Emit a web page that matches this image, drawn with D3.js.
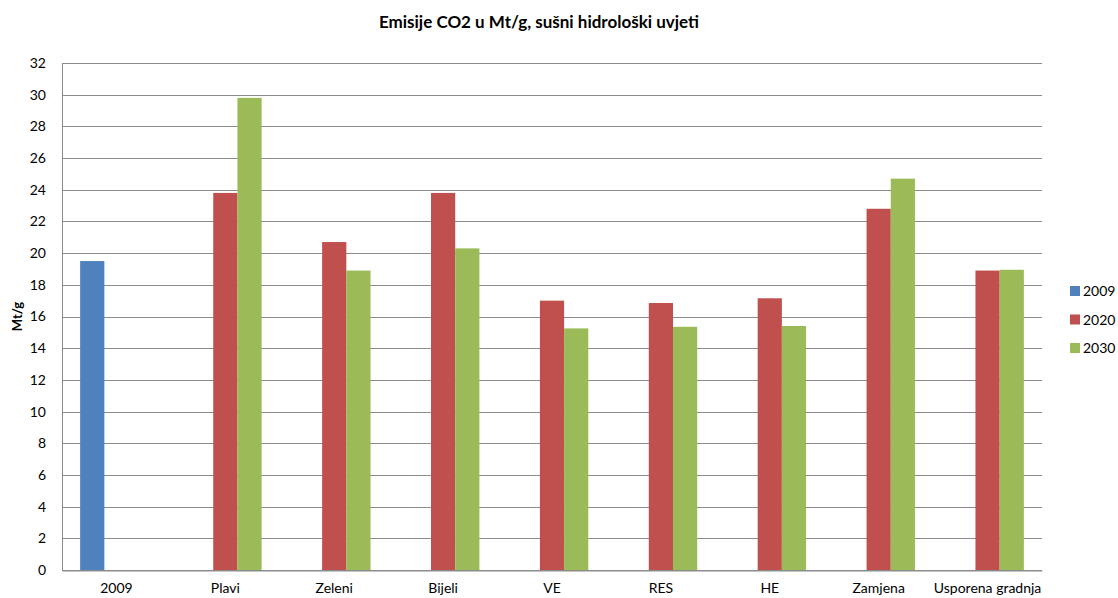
<!DOCTYPE html>
<html>
<head>
<meta charset="utf-8">
<script src="https://cdn.jsdelivr.net/npm/d3@7"></script>
<style>
  body { margin: 0; background: #fff; }
  text { font-family: Lato, "Open Sans", sans-serif; fill: #000; }
</style>
</head>
<body>
<script>
var categories = ["2009", "Plavi", "Zeleni", "Bijeli", "VE", "RES", "HE", "Zamjena", "Usporena gradnja"];
var seriesNames = ["2009", "2020", "2030"];
var values2009 = [19.5, 0, 0, 0, 0, 0, 0, 0, 0];
var values2020 = [0, 23.8, 20.7, 23.8, 17.0, 16.85, 17.15, 22.8, 18.9];
var values2030 = [0, 29.8, 18.9, 20.3, 15.25, 15.35, 15.4, 24.7, 18.95];
var colors = ["#4F81BD", "#C0504D", "#9BBB59"];
var yTicks = d3.range(0, 33, 2);

var margin = {top: 63, left: 62, right: 76};
var W = 1118, H = 598;
var width = W - margin.left - margin.right;
var height = 570 - margin.top;

var svg = d3.select("body").append("svg")
    .attr("width", W)
    .attr("height", H);

var g = svg.append("g")
    .attr("transform", "translate(" + margin.left + "," + margin.top + ")");

var x = d3.scaleBand()
    .domain(categories)
    .range([0, width])
    .padding(0);

var y = d3.scaleLinear()
    .domain([0, 32])
    .range([height, 0]);

var barW = x.bandwidth() / 4.5;

//Gridlines
g.selectAll("line.grid")
  .data(yTicks)
  .enter()
  .append("line")
  .attr("class", "grid")
  .attr("x1", 0)
  .attr("x2", width)
  .attr("y1", function(d) { return Math.round(y(d)) + 0.5; })
  .attr("y2", function(d) { return Math.round(y(d)) + 0.5; })
  .style("stroke", "#8c8c8c")
  .style("stroke-width", 1);

//Bars
var series = [values2009, values2020, values2030];
series.forEach(function(vals, si) {
  g.selectAll("rect.s" + si)
    .data(vals.map(function(v, i) { return {cat: categories[i], v: v}; })
              .filter(function(d) { return d.v > 0; }))
    .enter()
    .append("rect")
    .attr("class", "s" + si)
    .attr("x", function(d) { return x(d.cat) + x.bandwidth() / 2 - 1.5 * barW + si * barW; })
    .attr("width", barW)
    .attr("y", function(d) { return y(d.v); })
    .attr("height", function(d) { return height - y(d.v); })
    .style("fill", colors[si]);
});

//Y axis
var yAxis = d3.axisLeft(y).tickValues(yTicks).tickSize(0).tickPadding(16);
var ya = g.append("g").call(yAxis);
ya.select(".domain").style("stroke", "#8c8c8c");
ya.selectAll("text").style("font-size", "14px").style("font-family", "Lato, sans-serif");

//X axis
var xAxis = d3.axisBottom(x).tickSize(0).tickPadding(13);
var xa = g.append("g")
    .attr("transform", "translate(0," + (height + 0.5) + ")")
    .call(xAxis);
xa.select(".domain").style("stroke", "#8c8c8c");
xa.selectAll("text").style("font-size", "14px").style("font-family", "Lato, sans-serif");

//Title
svg.append("text")
    .attr("x", 539)
    .attr("y", 28)
    .attr("text-anchor", "middle")
    .style("font-size", "17px")
    .style("font-weight", "bold")
    .text("Emisije CO2 u Mt/g, sušni hidrološki uvjeti");

//Y label
svg.append("text")
    .attr("transform", "translate(22," + (margin.top + height / 2) + ") rotate(-90)")
    .attr("text-anchor", "middle")
    .style("font-size", "13px")
    .style("font-weight", "bold")
    .text("Mt/g");

//Legend
var legend = svg.append("g").attr("transform", "translate(1070,286)");
seriesNames.forEach(function(name, i) {
  legend.append("rect")
    .attr("x", 0)
    .attr("y", i * 28.5)
    .attr("width", 10)
    .attr("height", 10)
    .style("fill", colors[i]);
  legend.append("text")
    .attr("x", 13)
    .attr("y", i * 28.5 + 10)
    .style("font-size", "14px")
    .text(name);
});
</script>
</body>
</html>
